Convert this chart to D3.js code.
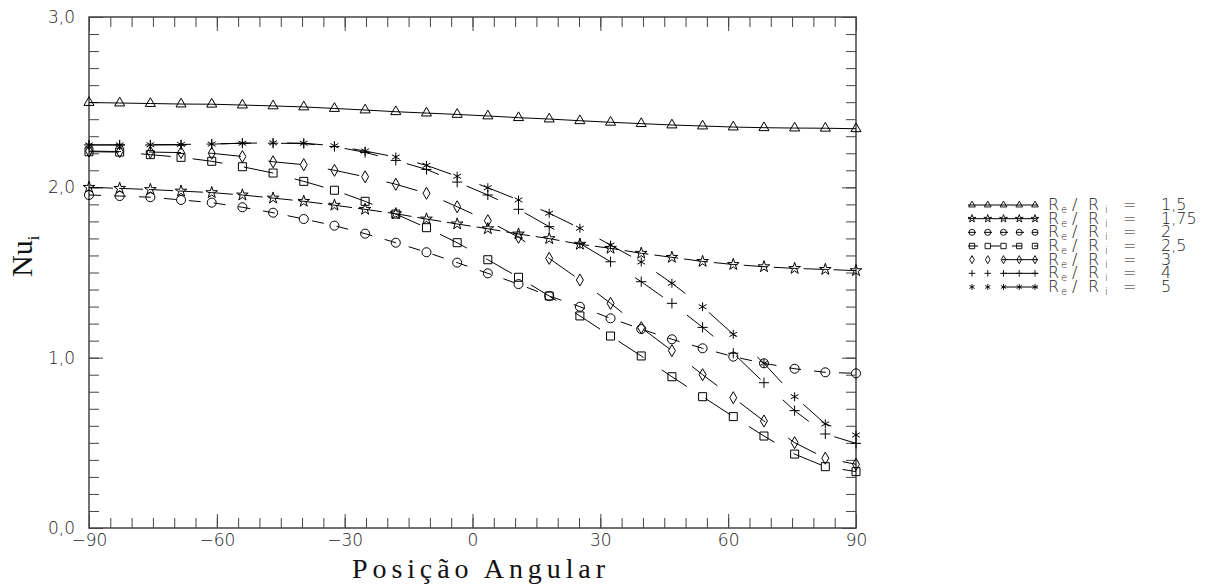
<!DOCTYPE html>
<html>
<head>
<meta charset="utf-8">
<script src="https://cdn.jsdelivr.net/npm/d3@7"></script>
<style>
  body { margin: 0; background: #fff; }
  svg { display: block; }
</style>
</head>
<body>
<div id="chart"></div>
<script>
// angular positions (deg)
var angles = [-90, -82.8, -75.6, -68.4, -61.2, -54, -46.8, -39.6, -32.4, -25.2, -18, -10.8, -3.6,
  3.6, 10.8, 18, 25.2, 32.4, 39.6, 46.8, 54, 61.2, 68.4, 75.6, 82.8, 90];

// Nu_i for each Re/Ri
var nu150 = [2.498, 2.495, 2.492, 2.489, 2.488, 2.483, 2.478, 2.472, 2.463, 2.454, 2.444, 2.436, 2.428,
  2.419, 2.409, 2.401, 2.391, 2.382, 2.374, 2.366, 2.360, 2.354, 2.350, 2.348, 2.347, 2.344];
var nu175 = [2.000, 1.994, 1.987, 1.978, 1.969, 1.955, 1.937, 1.918, 1.895, 1.871, 1.845, 1.814, 1.785,
  1.757, 1.726, 1.699, 1.666, 1.642, 1.613, 1.589, 1.565, 1.547, 1.534, 1.524, 1.518, 1.511];
var nu200 = [1.955, 1.949, 1.942, 1.926, 1.910, 1.883, 1.851, 1.814, 1.775, 1.728, 1.675, 1.619, 1.558,
  1.495, 1.432, 1.362, 1.299, 1.231, 1.168, 1.108, 1.055, 1.006, 0.967, 0.935, 0.914, 0.908];
var nu250 = [2.209, 2.207, 2.192, 2.176, 2.153, 2.121, 2.084, 2.035, 1.983, 1.918, 1.843, 1.763, 1.675,
  1.575, 1.472, 1.362, 1.245, 1.127, 1.010, 0.888, 0.771, 0.654, 0.540, 0.434, 0.360, 0.331];
var nu300 = [2.213, 2.210, 2.207, 2.204, 2.200, 2.181, 2.150, 2.133, 2.100, 2.062, 2.018, 1.965, 1.886,
  1.804, 1.707, 1.583, 1.456, 1.319, 1.176, 1.041, 0.900, 0.765, 0.628, 0.501, 0.410, 0.374];
var nu400 = [2.249, 2.249, 2.249, 2.249, 2.254, 2.259, 2.259, 2.257, 2.240, 2.205, 2.158, 2.105, 2.031,
  1.955, 1.871, 1.769, 1.671, 1.563, 1.446, 1.319, 1.178, 1.026, 0.853, 0.689, 0.552, 0.497];
var nu500 = [2.249, 2.249, 2.250, 2.252, 2.254, 2.259, 2.261, 2.259, 2.244, 2.213, 2.178, 2.129, 2.065,
  1.998, 1.926, 1.848, 1.760, 1.661, 1.562, 1.437, 1.299, 1.137, 0.967, 0.771, 0.611, 0.546];

var ratios = ["1,5", "1,75", "2", "2,5", "3", "4", "5"];
var yTicks = [0, 1, 2, 3];
var xTicks = [-90, -60, -30, 0, 30, 60, 90];

var series = [nu150, nu175, nu200, nu250, nu300, nu400, nu500];

// look of each series: marker, size, dash pattern
var looks = [
  { sym: d3.symbolTriangle, size: 44, dash: null, ldash: null },
  { sym: d3.symbolStar, size: 42, dash: "24,6", ldash: null },
  { sym: d3.symbolCircle, size: 64, dash: "12,13", ldash: "8,8" },
  { sym: d3.symbolSquare, size: 64, dash: "30,22", ldash: "10,12" },
  { sym: d3.symbolDiamond, size: 42, dash: "32,28", ldash: "0,34,40" },
  { sym: d3.symbolPlus, size: 36, dash: "34,30", ldash: "0,34,40" },
  { sym: d3.symbolAsterisk, size: 56, dash: "36,30", ldash: "0,34,40" }
];

var width = 1216,
  height = 588;

var x = d3.scaleLinear().domain([-90, 90]).range([89, 856]);
var y = d3.scaleLinear().domain([0, 3]).range([528, 17]);

var fmtY = function(d) { return d3.format(".1f")(d).replace(".", ","); };

var svg = d3.select("#chart")
  .append("svg")
  .attr("width", width)
  .attr("height", height);

var axisColor = "#444";
var labelFont = "'DejaVu Sans', sans-serif";

function styleAxis(g) {
  g.select(".domain").remove();
  g.selectAll(".tick line").attr("stroke", axisColor);
  g.selectAll(".tick text")
    .attr("font-family", labelFont)
    .attr("font-size", 17)
    .attr("font-weight", 200)
    .attr("fill", "#222");
}

// minor ticks (every 5 deg / 0.1)
svg.append("g").attr("transform", "translate(0,528)")
  .call(d3.axisBottom(x).tickValues(d3.range(-90, 91, 5)).tickSize(-10).tickFormat(""))
  .call(styleAxis);
svg.append("g").attr("transform", "translate(0,17)")
  .call(d3.axisTop(x).tickValues(d3.range(-90, 91, 5)).tickSize(-10).tickFormat(""))
  .call(styleAxis);
svg.append("g").attr("transform", "translate(89,0)")
  .call(d3.axisLeft(y).tickValues(d3.range(0, 31).map(function(d) { return d / 10; })).tickSize(-10).tickFormat(""))
  .call(styleAxis);
svg.append("g").attr("transform", "translate(856,0)")
  .call(d3.axisRight(y).tickValues(d3.range(0, 31).map(function(d) { return d / 10; })).tickSize(-10).tickFormat(""))
  .call(styleAxis);

// major ticks with labels
svg.append("g").attr("transform", "translate(0,528)")
  .call(d3.axisBottom(x).tickValues(xTicks).tickSize(-14).tickPadding(6))
  .call(styleAxis);
svg.append("g").attr("transform", "translate(0,17)")
  .call(d3.axisTop(x).tickValues(xTicks).tickSize(-14).tickFormat(""))
  .call(styleAxis);
svg.append("g").attr("transform", "translate(89,0)")
  .call(d3.axisLeft(y).tickValues(yTicks).tickSize(-14).tickPadding(14).tickFormat(fmtY))
  .call(styleAxis);
svg.append("g").attr("transform", "translate(856,0)")
  .call(d3.axisRight(y).tickValues(yTicks).tickSize(-14).tickFormat(""))
  .call(styleAxis);

// frame
svg.append("rect")
  .attr("x", 89).attr("y", 17)
  .attr("width", 856 - 89).attr("height", 528 - 17)
  .attr("fill", "none")
  .attr("stroke", axisColor)
  .attr("stroke-width", 1.5);

// data lines
var line = d3.line()
  .x(function(d, i) { return x(angles[i]); })
  .y(function(d) { return y(d); });

var plot = svg.append("g");

series.forEach(function(s, k) {
  plot.append("path")
    .attr("d", line(s))
    .attr("fill", "none")
    .attr("stroke", "#000")
    .attr("stroke-width", 1)
    .attr("stroke-dasharray", looks[k].dash);

  plot.selectAll(".m" + k)
    .data(s)
    .enter().append("path")
    .attr("class", "m" + k)
    .attr("transform", function(d, i) { return "translate(" + x(angles[i]) + "," + y(d) + ")"; })
    .attr("d", d3.symbol().type(looks[k].sym).size(looks[k].size))
    .attr("fill", "none")
    .attr("stroke", "#000")
    .attr("stroke-width", 1);
});

// axis titles
svg.append("text")
  .attr("x", 352).attr("y", 578)
  .attr("textLength", 253)
  .attr("lengthAdjust", "spacing")
  .attr("font-family", "'Liberation Serif', serif")
  .attr("font-size", 28)
  .attr("fill", "#111")
  .text("Posição Angular");

var yt = svg.append("text")
  .attr("transform", "translate(32,277) rotate(-90)")
  .attr("font-family", "'Liberation Serif', serif")
  .attr("font-size", 30)
  .attr("fill", "#111");
yt.append("tspan").text("Nu");
yt.append("tspan").attr("font-size", 16).attr("dy", 7).text("i");

// legend
var legend = svg.append("g");
var rowY = d3.scaleLinear().domain([0, 6]).range([205, 287]);
var sampleX = d3.scaleLinear().domain([0, 4]).range([972, 1035]);

ratios.forEach(function(r, k) {
  var cy = rowY(k);
  legend.append("line")
    .attr("x1", 968).attr("x2", 1038)
    .attr("y1", cy).attr("y2", cy)
    .attr("stroke", "#000")
    .attr("stroke-width", 1)
    .attr("stroke-dasharray", looks[k].ldash);
  legend.selectAll(".l" + k)
    .data(d3.range(5))
    .enter().append("path")
    .attr("transform", function(j) { return "translate(" + sampleX(j) + "," + cy + ")"; })
    .attr("d", d3.symbol().type(looks[k].sym).size(looks[k].size * 0.45))
    .attr("fill", "none")
    .attr("stroke", "#000")
    .attr("stroke-width", 0.9);

  var t = legend.append("text")
    .attr("y", cy + 5)
    .attr("font-family", labelFont)
    .attr("font-size", 16)
    .attr("font-weight", 200)
    .attr("fill", "#222");
  t.append("tspan").attr("x", 1048).text("R");
  t.append("tspan").attr("x", 1061).attr("dy", 3).attr("font-size", 10).text("e");
  t.append("tspan").attr("x", 1072).attr("dy", -3).text("/");
  t.append("tspan").attr("x", 1088).text("R");
  t.append("tspan").attr("x", 1105).attr("dy", 3).attr("font-size", 10).text("i");
  t.append("tspan").attr("x", 1123).attr("dy", -3).text("=");
  t.append("tspan").attr("x", 1161).text(r);
});
</script>
</body>
</html>
